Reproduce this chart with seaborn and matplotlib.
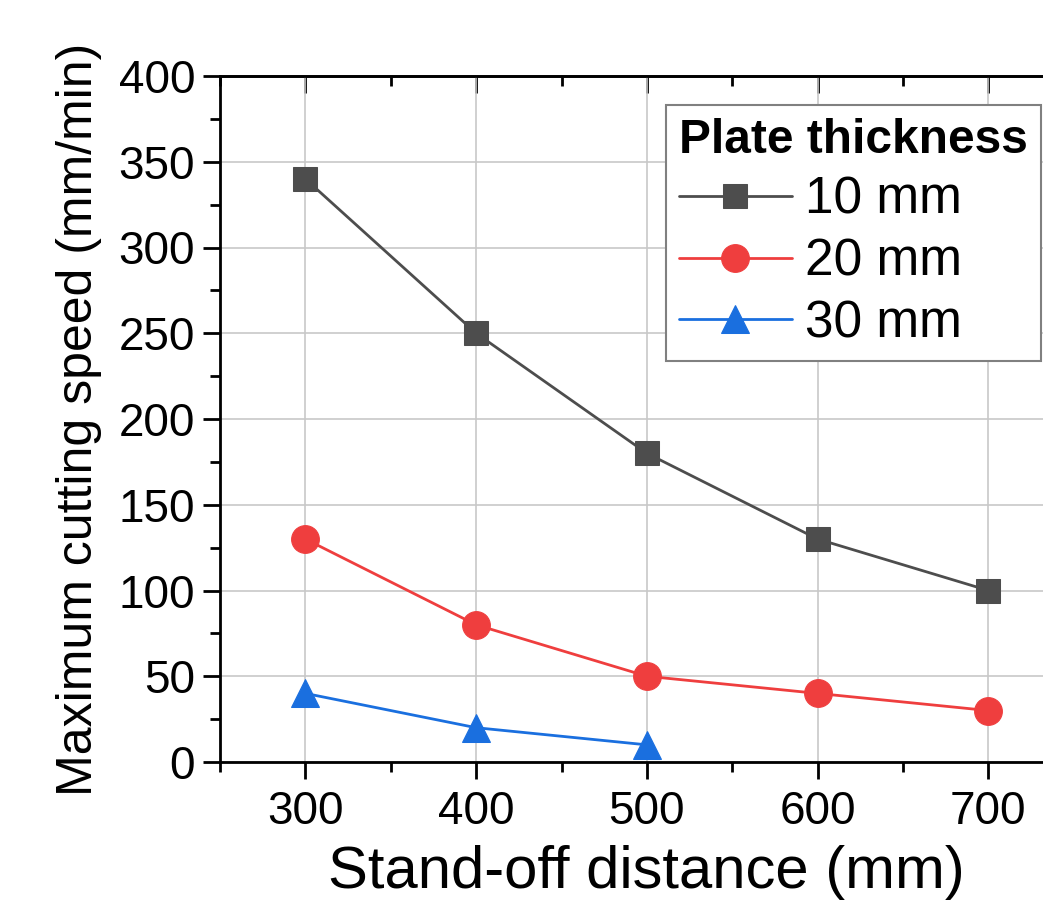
import matplotlib
matplotlib.use("Agg")
import matplotlib.pyplot as plt
import numpy as np
import pandas as pd
import seaborn as sns
from matplotlib.ticker import MultipleLocator

# Dati
standoff_10 = [300, 400, 500, 600, 700]
speed_10 = [340, 250, 180, 130, 100]
standoff_20 = [300, 400, 500, 600, 700]
speed_20 = [130, 80, 50, 40, 30]
standoff_30 = [300, 400, 500]
speed_30 = [40, 20, 10]

series_labels = ["10 mm", "20 mm", "30 mm"]
series_colors = ["#4d4d4d", "#ef3e3e", "#1a6fdf"]
series_markers = ["s", "o", "^"]
marker_sizes = [17, 20, 20]

sns.set_style("white", rc={"xtick.bottom": True, "ytick.left": True,
                           "text.color": "black", "axes.labelcolor": "black",
                           "xtick.color": "black", "ytick.color": "black"})
plt.rcParams["font.family"] = ["Liberation Sans", "DejaVu Sans"]

fig = plt.figure(figsize=(10.43, 9), dpi=100)
ax = fig.add_axes([220 / 1043, 138 / 900, 853.75 / 1043, 686 / 900])

data = [(standoff_10, speed_10), (standoff_20, speed_20), (standoff_30, speed_30)]
for (xs, ys), lab, col, mk, ms in zip(data, series_labels, series_colors,
                                       series_markers, marker_sizes):
    df = pd.DataFrame({"x": xs, "y": ys})
    sns.lineplot(data=df, x="x", y="y", ax=ax, color=col, marker=mk,
                 markersize=ms, markeredgecolor=col, linewidth=2,
                 label=lab, zorder=3)

ax.set_xlim(250, 750)
ax.set_ylim(0, 400)
ax.xaxis.set_major_locator(MultipleLocator(100))
ax.xaxis.set_minor_locator(MultipleLocator(50))
ax.yaxis.set_major_locator(MultipleLocator(50))
ax.yaxis.set_minor_locator(MultipleLocator(25))

ax.grid(True, which="major", color="#c8c8c8", linewidth=1.2, zorder=0)
ax.set_axisbelow(True)

for side in ["left", "bottom", "top"]:
    ax.spines[side].set_color("black")
    ax.spines[side].set_linewidth(2)
ax.spines["right"].set_visible(False)

ax.tick_params(axis="both", which="major", direction="out", length=12,
               width=2, labelsize=33, colors="black", top=False,
               bottom=True, left=True)
ax.tick_params(axis="both", which="minor", direction="out", length=7,
               width=2, top=False, bottom=True, left=True, colors="black")
ax.tick_params(axis="x", pad=8)
ax.tick_params(axis="y", pad=6)

# tacche interne sul bordo superiore
top = ax.secondary_xaxis("top")
top.set_xticks([300, 400, 500, 600, 700])
top.xaxis.set_minor_locator(MultipleLocator(50))
top.tick_params(axis="x", which="major", direction="in", length=12, width=2,
                labeltop=False, top=True, colors="black")
top.tick_params(axis="x", which="minor", direction="in", length=7, width=2,
                top=True, colors="black")
top.spines["top"].set_linewidth(2)

ax.set_xlabel("Stand-off distance (mm)", fontsize=43, labelpad=8)
ax.set_ylabel("Maximum cutting speed (mm/min)", fontsize=36, labelpad=12)

leg = ax.legend(title="Plate thickness", loc="upper left",
                bbox_to_anchor=(0.5224, 0.9577), borderaxespad=0,
                fontsize=37, title_fontproperties={"weight": "bold", "size": 34.5},
                handlelength=2.2, handletextpad=0.25, labelspacing=0.25,
                borderpad=0.25, fancybox=False, framealpha=1,
                edgecolor="#808080", alignment="left")
leg.get_frame().set_linewidth(1.5)

fig.savefig("out.png", dpi=100)
